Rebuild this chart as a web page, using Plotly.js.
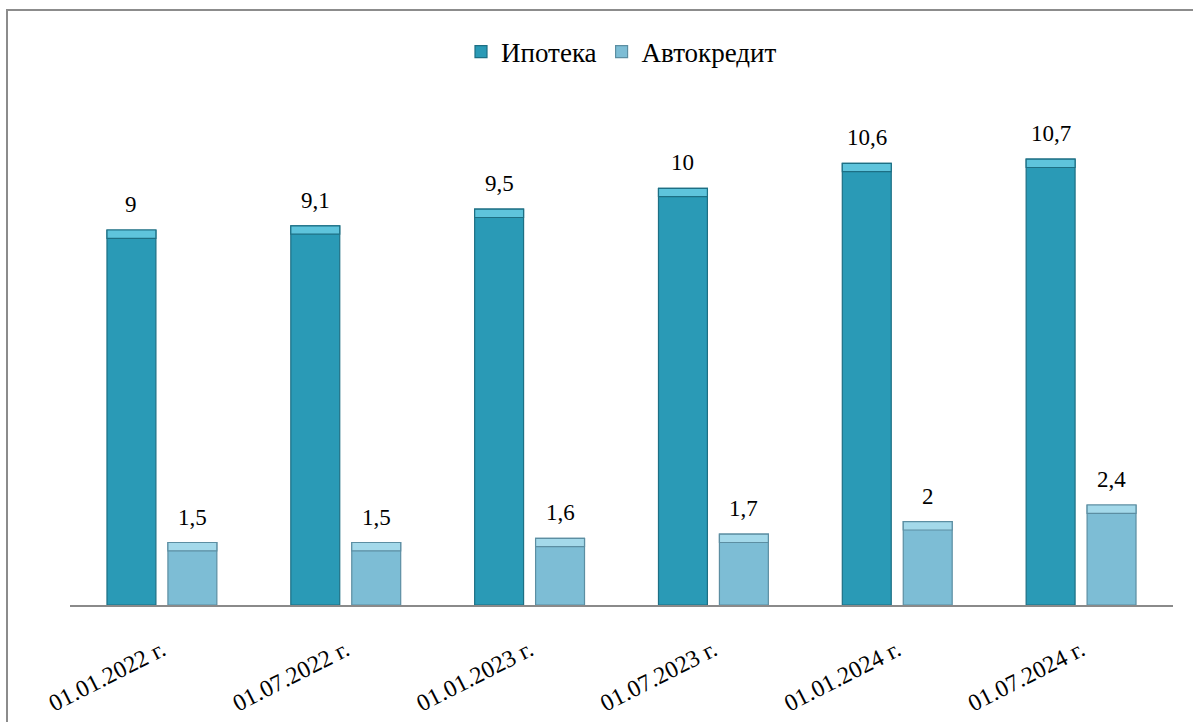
<!DOCTYPE html>
<html>
<head>
<meta charset="utf-8">
<script src="https://cdn.plot.ly/plotly-3.0.1.min.js"></script>
<style>
  html, body { margin: 0; padding: 0; background: #fff; }
  #wrap { position: relative; width: 1193px; height: 722px; overflow: hidden; }
  #preload { position: absolute; left: 200px; top: 300px; color: #fff; font-size: 24px; white-space: nowrap; z-index: 0; }
  #frame { position: absolute; left: 6px; top: 9px; width: 1300px; height: 800px; z-index: 2;
           border-left: 2px solid #8c8c8c; border-top: 2px solid #8c8c8c; pointer-events: none; }
  #chart { position: absolute; left: 0; top: 0; width: 1193px; height: 722px; z-index: 1; }
  #chart text { font-family: "Liberation Serif", Tinos, "Times New Roman", "Nimbus Roman", FreeSerif, "DejaVu Serif", serif !important; }
</style>
</head>
<body>
<div id="wrap">
  <div id="preload">
    <span style="font-family:'Liberation Serif'">Ипотека Автокредит 0123456789 г.,</span>
    <span style="font-family:serif">Ипотека Автокредит 0123456789 г.,</span>
    <span style="font-family:'DejaVu Serif'">Ипотека 0123456789</span>
  </div>
  <div id="chart"></div>
  <div id="frame"></div>
</div>
<script>
const categories = ["01.01.2022 г.", "01.07.2022 г.", "01.01.2023 г.", "01.07.2023 г.", "01.01.2024 г.", "01.07.2024 г."];
const seriesNames = ["Ипотека", "Автокредит"];
const mortgage = [9, 9.1, 9.5, 10, 10.6, 10.7];
const autoLoan = [1.5, 1.5, 1.6, 1.7, 2, 2.4];

const serif = '"Liberation Serif", Tinos, "Times New Roman", "Nimbus Roman", FreeSerif, "DejaVu Serif", serif';
const fmt = v => String(v).replace('.', ',');
const bevel = 0.2;

const traces = [
  {
    type: 'bar', name: seriesNames[0], x: categories, y: mortgage, offsetgroup: 'a',
    marker: { color: '#2a9ab6', line: { color: '#1d6f84', width: 1.2 } }
  },
  {
    type: 'bar', name: seriesNames[1], x: categories, y: autoLoan, offsetgroup: 'b',
    marker: { color: '#7dbdd5', line: { color: '#5c8ea2', width: 1.2 } }
  },
  {
    type: 'bar', name: seriesNames[0], x: categories, offsetgroup: 'a', showlegend: false,
    base: mortgage.map(v => v - bevel), y: mortgage.map(() => bevel),
    marker: { color: '#5ec4dc', line: { color: '#1d6f84', width: 1.2 } }
  },
  {
    type: 'bar', name: seriesNames[1], x: categories, offsetgroup: 'b', showlegend: false,
    base: autoLoan.map(v => v - bevel), y: autoLoan.map(() => bevel),
    marker: { color: '#a4d9ea', line: { color: '#5c8ea2', width: 1.2 } }
  }
];

const annotations = [];
[[mortgage, -30.5], [autoLoan, 30.5]].forEach(([vals, dx]) => {
  vals.forEach((v, i) => {
    annotations.push({
      xref: 'x', yref: 'y', x: categories[i], y: v,
      text: fmt(v), showarrow: false, xshift: dx, yanchor: 'bottom', yshift: 11,
      font: { family: serif, size: 23, color: '#000' }
    });
  });
});

const layout = {
  width: 1193, height: 722,
  margin: { l: 70, r: 20, t: 105, b: 117 },
  paper_bgcolor: 'rgba(255,255,255,1)', plot_bgcolor: '#fff',
  barmode: 'group', bargap: 0.337, bargroupgap: 0.197,
  font: { family: serif, color: '#000' },
  xaxis: {
    type: 'category', showline: true, linecolor: '#8a8a8a', linewidth: 1.5,
    showgrid: false, zeroline: false, ticks: '', tickangle: -27, ticklabelstandoff: 20,
    tickfont: { family: serif, size: 24, color: '#000' }
  },
  yaxis: { range: [0, 12], visible: false },
  legend: {
    orientation: 'h', x: 0.5, xanchor: 'center', y: 1.106, yanchor: 'middle',
    font: { family: serif, size: 27, color: '#000' }, itemgap: 20, traceorder: 'normal'
  },
  annotations: annotations
};

Plotly.newPlot('chart', traces, layout, { displayModeBar: false });
</script>
</body>
</html>
